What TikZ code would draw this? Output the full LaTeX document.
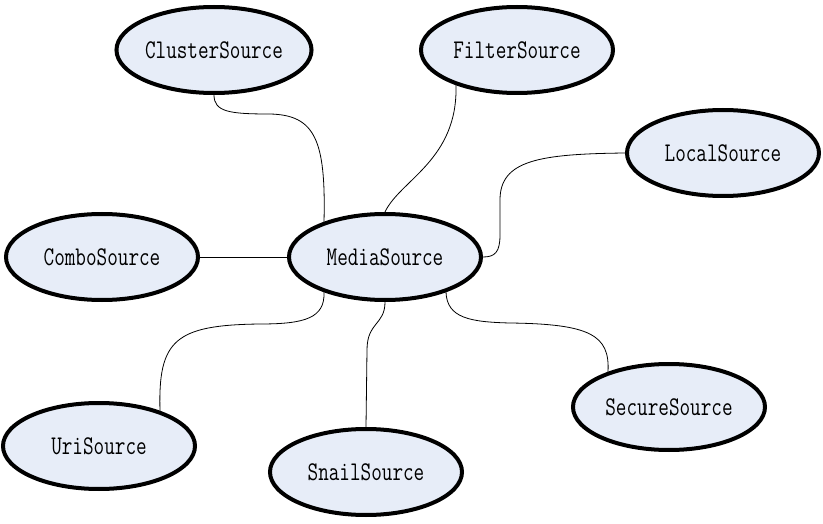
\documentclass[tikz,border=0pt]{standalone}
\usepackage{graphicx}
\usetikzlibrary{shapes.geometric}
\definecolor{nodefill}{RGB}{231,237,248}
\newcommand{\tallname}[1]{\scalebox{1.03}[1.35]{#1}}
\tikzset{
  srcnode/.style={ellipse, draw=black, line width=4pt, fill=nodefill,
    minimum width=192pt, minimum height=86pt, inner sep=0pt,
    font=\fontsize{20}{24}\selectfont\ttfamily},
  link/.style={draw=black, line width=0.8pt}
}
\begin{document}
\begin{tikzpicture}[x=1pt,y=-1pt]
\useasboundingbox (0,0) rectangle (823,524);
\node[srcnode] (cluster) at (214,50) {\tallname{ClusterSource}};
\node[srcnode] (filter) at (517,50) {\tallname{FilterSource}};
\node[srcnode] (local) at (723,153) {\tallname{LocalSource}};
\node[srcnode] (combo) at (102,257) {\tallname{ComboSource}};
\node[srcnode] (media) at (385,257) {\tallname{MediaSource}};
\node[srcnode] (uri) at (99,446) {\tallname{UriSource}};
\node[srcnode] (snail) at (366,472) {\tallname{SnailSource}};
\node[srcnode] (secure) at (669,407) {\tallname{SecureSource}};
\draw[link] (cluster.-90) .. controls (214,112) and (230,114) .. (270,114)
   .. controls (315,115) and (326,140) .. (media.150);
\draw[link] (filter.210) .. controls (458,160) and (400,180) .. (media.90);
\draw[link] (local.180) .. controls (540,154) and (500,160) .. (500,200)
   -- (500,235) .. controls (500,252) and (495,257) .. (media.0);
\draw[link] (combo.0) -- (media.180);
\draw[link] (media.210) .. controls (325,318) and (305,324) .. (260,324)
   .. controls (175,325) and (158,340) .. (uri.30);
\draw[link] (media.-90) .. controls (385,325) and (367,322) .. (367,350)
   -- (snail.90);
\draw[link] (media.330) .. controls (447,318) and (470,322) .. (510,323)
   .. controls (590,324) and (610,335) .. (secure.150);
\end{tikzpicture}
\end{document}
